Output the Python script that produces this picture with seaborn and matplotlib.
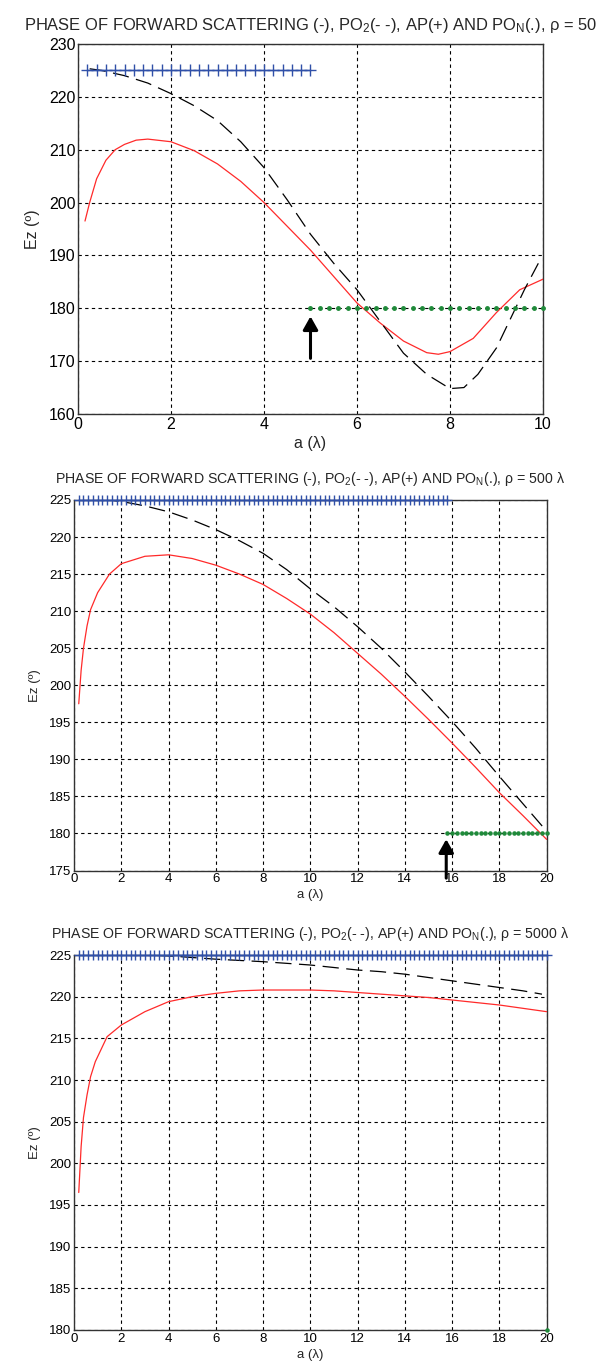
import numpy as np
import pandas as pd
import seaborn as sns
import matplotlib.pyplot as plt

# ---- data ----
# panel 1, rho = 50
fs1_x = [0.15, 0.25, 0.4, 0.6, 0.8, 1.0, 1.25, 1.5, 2, 2.5, 3, 3.5, 4, 4.5, 5, 5.5, 6,
         6.5, 7, 7.5, 7.75, 8, 8.5, 9, 9.5, 10]
fs1_y = [196.5, 200, 204.5, 208, 210, 211, 211.8, 212, 211.5, 209.8, 207.3, 204, 200,
         195.5, 191, 186, 181, 177.2, 173.8, 171.6, 171.3, 171.8, 174.3, 179.2, 183.5, 185.5]
po2_1_x = [0.25, 0.5, 1, 1.5, 2, 2.5, 3, 3.5, 4, 4.5, 5, 5.5, 6, 6.5, 7, 7.5, 8,
           8.3, 8.6, 9, 9.3, 9.6, 9.9]
po2_1_y = [225.3, 225, 224, 222.6, 220.6, 218.3, 215.5, 211.5, 206.6, 200.5, 194,
           188.5, 183.5, 177.5, 171.5, 167.5, 164.8, 165, 167.5, 172.5, 178, 183.5, 188.5]
ap1 = (0.2, 5.0, 225)      # start, stop, value
pon1 = (5.0, 10.0, 180)
arrow1 = (5.0, 170, 179)

# panel 2, rho = 500 lambda
fs2_x = [0.2, 0.3, 0.4, 0.55, 0.7, 1, 1.5, 2, 3, 4, 5, 6, 7, 8, 9, 10, 11, 12,
         13, 14, 15, 16, 17, 18, 19, 20]
fs2_y = [197.5, 202, 205, 208, 210.2, 212.5, 215, 216.4, 217.4, 217.6, 217.1,
         216.2, 215, 213.6, 211.7, 209.6, 207.1, 204.3, 201.5, 198.5, 195.4,
         192.2, 188.9, 185.5, 182.4, 179.2]
po2_2_x = [1.2, 2, 3, 4, 5, 6, 7, 8, 9, 10, 11, 12, 13, 14, 15, 16, 17, 18, 19, 20]
po2_2_y = [225.1, 224.8, 224.2, 223.4, 222.3, 221.0, 219.5, 217.8, 215.6, 213.0,
           210.6, 207.9, 205.0, 201.8, 198.5, 195.1, 191.5, 187.7, 184.0, 180.3]
ap2 = (0.2, 15.8, 225)
pon2 = (15.8, 20.0, 180)
arrow2 = (15.75, 173.6, 179.6)

# panel 3, rho = 5000 lambda
fs3_x = [0.2, 0.3, 0.4, 0.55, 0.7, 0.9, 1.4, 2, 3, 4, 5, 6, 7, 8, 9, 10, 11, 12,
         13, 14, 15, 16, 17, 18, 19, 20]
fs3_y = [196.5, 202, 205.5, 208.2, 210.4, 212.2, 215.2, 216.6, 218.2, 219.4, 220.0,
         220.4, 220.7, 220.8, 220.8, 220.8, 220.7, 220.5, 220.3, 220.1, 219.9,
         219.6, 219.3, 219.0, 218.6, 218.2]
po2_3_x = [3.5, 4, 5, 6, 7, 8, 9, 10, 11, 12, 13, 14, 15, 16, 17, 18, 19, 19.8]
po2_3_y = [224.95, 224.9, 224.7, 224.5, 224.35, 224.2, 224.0, 223.8, 223.5, 223.2,
           223.0, 222.7, 222.3, 221.9, 221.5, 221.1, 220.7, 220.3]
ap3 = (0.2, 20.0, 225)
pon3 = (20.0, 20.0, 180)

titles = ["PHASE OF FORWARD SCATTERING (-), PO$_2$(- -), AP(+) AND PO$_N$(.), \u03c1 = 50",
          "PHASE OF FORWARD SCATTERING (-), PO$_2$(- -), AP(+) AND PO$_N$(.), \u03c1 = 500 \u03bb",
          "PHASE OF FORWARD SCATTERING (-), PO$_2$(- -), AP(+) AND PO$_N$(.), \u03c1 = 5000 \u03bb"]
xlims = [(0, 10), (0, 20), (0, 20)]
ylims = [(160, 230), (175, 225), (180, 225)]
yticks = [np.arange(160, 231, 10), np.arange(175, 226, 5), np.arange(180, 226, 5)]
xticks = [np.arange(0, 11, 2), np.arange(0, 21, 2), np.arange(0, 21, 2)]

sns.set_style("white")
plt.rcParams['font.family'] = ['Liberation Sans', 'DejaVu Sans']
plt.rcParams['mathtext.default'] = 'regular'

fig = plt.figure(figsize=(5.97, 13.69), dpi=100)
boxes = [[0.1307, 0.6976, 0.7788, 0.2703],
         [0.124, 0.3641, 0.7917, 0.2707],
         [0.124, 0.0285, 0.7917, 0.2739]]

panels = [(fs1_x, fs1_y, po2_1_x, po2_1_y, ap1, pon1, arrow1),
          (fs2_x, fs2_y, po2_2_x, po2_2_y, ap2, pon2, arrow2),
          (fs3_x, fs3_y, po2_3_x, po2_3_y, ap3, pon3, None)]

RED = '#ff2a2a'
BLUE = '#3050a8'
GREEN = '#1f8a3a'

for i, (fx, fy, px, py, ap, pon, arr) in enumerate(panels):
    ax = fig.add_axes(boxes[i])
    big = (i == 0)
    fsz = 11.5 if big else 9.5

    step = 0.2
    ap_x = np.round(np.arange(ap[0], ap[1] + 1e-6, step), 2)
    pon_x = np.round(np.arange(pon[0], pon[1] + 1e-6, step), 2)

    sns.lineplot(x=fx, y=fy, ax=ax, color=RED, lw=0.9, zorder=4)
    sns.lineplot(x=px, y=py, ax=ax, color='black', lw=0.9, zorder=4,
                 linestyle=(0, (13, 6)))
    ax.plot(ap_x, np.full(len(ap_x), ap[2]), color=BLUE, marker='+',
            ms=9 if big else 7, mew=1.0, lw=1.0, zorder=5, clip_on=False)
    ax.plot(pon_x, np.full(len(pon_x), pon[2]), color=GREEN, marker='.',
            ms=5 if big else 4.5, ls='none', zorder=5, clip_on=False)
    if arr is not None:
        ax.annotate('', xy=(arr[0], arr[2]), xytext=(arr[0], arr[1]),
                    arrowprops=dict(arrowstyle='-|>,head_length=0.8,head_width=0.45',
                                    color='black', lw=2.2), annotation_clip=False,
                    zorder=6)

    ax.set_xlim(*xlims[i])
    ax.set_ylim(*ylims[i])
    ax.set_xticks(xticks[i])
    ax.set_yticks(yticks[i])
    ax.grid(True, color='black', linestyle=(0, (3, 3)), lw=0.8)
    ax.tick_params(direction='in', length=4, labelsize=fsz, colors='black',
                   pad=2)
    for s in ax.spines.values():
        s.set_color('#333333')
        s.set_linewidth(1.0)
        s.set_visible(True)
    ax.set_xlabel("a (\u03bb)", fontsize=fsz, labelpad=3)
    ax.set_ylabel("Ez (\u00ba)", fontsize=fsz, labelpad=6)
    ax.set_title(titles[i], fontsize=11.9 if big else 10.2, pad=10 if big else 12,
                 loc='center')

fig.savefig("out.png", dpi=100)
